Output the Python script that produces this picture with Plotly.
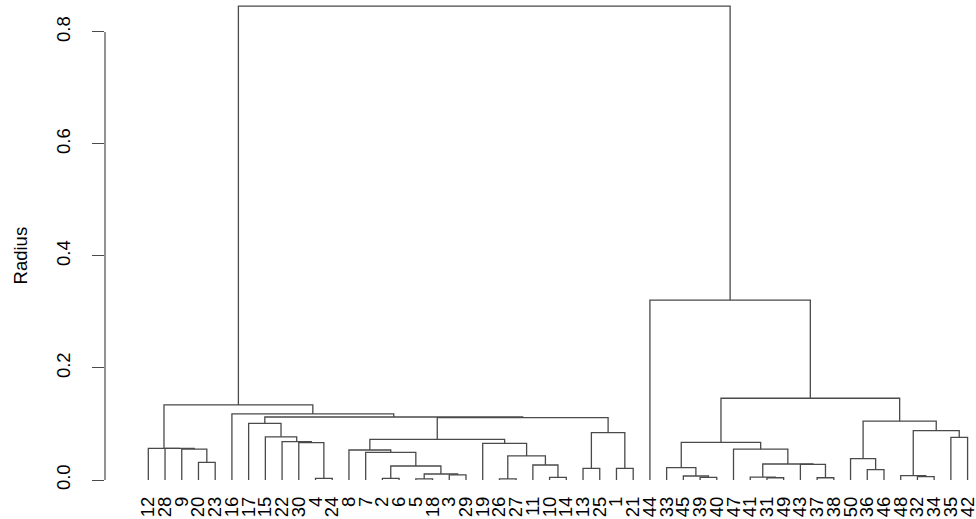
import plotly.graph_objects as go

# Leaf labels in plotted order (left to right)
leaf_order = [12, 28, 9, 20, 23, 16, 17, 15, 22, 30, 4, 24, 8, 7, 2, 6, 5, 18, 3, 29,
              19, 26, 27, 11, 10, 14, 13, 25, 1, 21, 44, 33, 45, 39, 40, 47, 41, 31, 49, 43,
              37, 38, 50, 36, 46, 48, 32, 34, 35, 42]

# Merges: ints are leaf labels, "mK" refers to the K-th merge (1-based)
merge_left = [20, 9, 28, 12, 4, 30, 22, 15, 17, 2,
              5, 3, "m11", "m10", 7, 8, 26, 10, 11, "m17",
              19, "m16", 13, 1, "m23", "m22", "m9", 16, "m4",
              39, 45, 33, 31, 41, 37, 43, "m34", 47, "m32",
              36, 50, 32, 48, 35, "m43", "m41", "m39", 44, "m29"]
merge_right = [23, "m1", "m2", "m3", 24, "m5", "m6", "m7", "m8", 6,
               18, 29, "m12", "m13", "m14", "m15", 27, 14, "m18", "m19",
               "m20", "m21", 25, 21, "m24", "m25", "m26", "m27", "m28",
               40, "m30", "m31", 49, "m33", 38, "m35", "m36", "m37", "m38",
               46, "m40", 34, "m42", 42, "m44", "m45", "m46", "m47", "m48"]
merge_height = [0.0316, 0.0550, 0.0565, 0.0566, 0.0030, 0.0666, 0.0684, 0.0770, 0.1010, 0.0030,
                0.0020, 0.0090, 0.0107, 0.0250, 0.0494, 0.0536, 0.0020, 0.0048, 0.0268, 0.0429,
                0.0655, 0.0726, 0.0208, 0.0208, 0.0845, 0.1115, 0.1125, 0.1180, 0.1340,
                0.0048, 0.0071, 0.0220, 0.0040, 0.0050, 0.0040, 0.0280, 0.0286, 0.0550, 0.0670,
                0.0185, 0.0380, 0.0060, 0.0077, 0.0762, 0.0880, 0.1050, 0.1460, 0.3210, 0.8460]

y_ticks = [0.0, 0.2, 0.4, 0.6, 0.8]
y_label = "Radius"

# ---- positions (R dendrogram midpoint layout) ----
leaf_x = {lab: i + 1 for i, lab in enumerate(leaf_order)}
node_x, node_h = {}, {}


def pos(ref):
    if isinstance(ref, str):
        return node_x[ref], node_h[ref]
    return leaf_x[ref], 0.0


xs, ys = [], []
for k, (l, r, h) in enumerate(zip(merge_left, merge_right, merge_height), start=1):
    xl, hl = pos(l)
    xr, hr = pos(r)
    xs += [xl, xl, xr, xr, None]
    ys += [hl, h, h, hr, None]
    node_x["m%d" % k] = (xl + xr) / 2
    node_h["m%d" % k] = h

FONT = "Liberation Sans, Arial, Helvetica, sans-serif"
FS = 18.5

fig = go.Figure()
fig.add_trace(go.Scatter(x=xs, y=ys, mode="lines",
                         line=dict(color="#4a4a4a", width=1.3),
                         hoverinfo="skip", showlegend=False))

n = len(leaf_order)
fig.update_layout(
    width=976, height=519,
    margin=dict(l=105, r=0, t=0, b=39, pad=0),
    paper_bgcolor="white", plot_bgcolor="white",
    font=dict(family=FONT, size=FS, color="black"),
    xaxis=dict(range=[-1.59, 50.503], showgrid=False, zeroline=False, showline=False,
               automargin=False, ticklabeloverflow="allow",
               tickmode="array", tickvals=list(range(1, n + 1)),
               ticktext=[str(v) for v in leaf_order], tickangle=-90,
               ticks="", ticklabelstandoff=12,
               tickfont=dict(family=FONT, size=FS, color="black")),
    yaxis=dict(range=[0, 0.857], showgrid=False, zeroline=False, showline=False,
               automargin=False,
               tickmode="array", tickvals=y_ticks,
               ticktext=["%.1f" % v for v in y_ticks], tickangle=-90,
               ticks="outside", ticklen=12, tickcolor="#4a4a4a", tickwidth=1.2,
               ticklabelstandoff=15,
               tickfont=dict(family=FONT, size=FS, color="black")),
    shapes=[dict(type="line", xref="paper", yref="y", x0=0, x1=0,
                 y0=y_ticks[0], y1=y_ticks[-1],
                 line=dict(color="#4a4a4a", width=1.2))],
    annotations=[dict(text=y_label, xref="paper", yref="y", x=0, y=0.4,
                      xshift=-72, xanchor="right", yanchor="middle", textangle=-90,
                      showarrow=False, font=dict(family=FONT, size=FS, color="black"))],
)

fig.write_html("out.html", config={"displayModeBar": False},
               post_script="document.body.style.margin='0';document.body.style.padding='0';")
